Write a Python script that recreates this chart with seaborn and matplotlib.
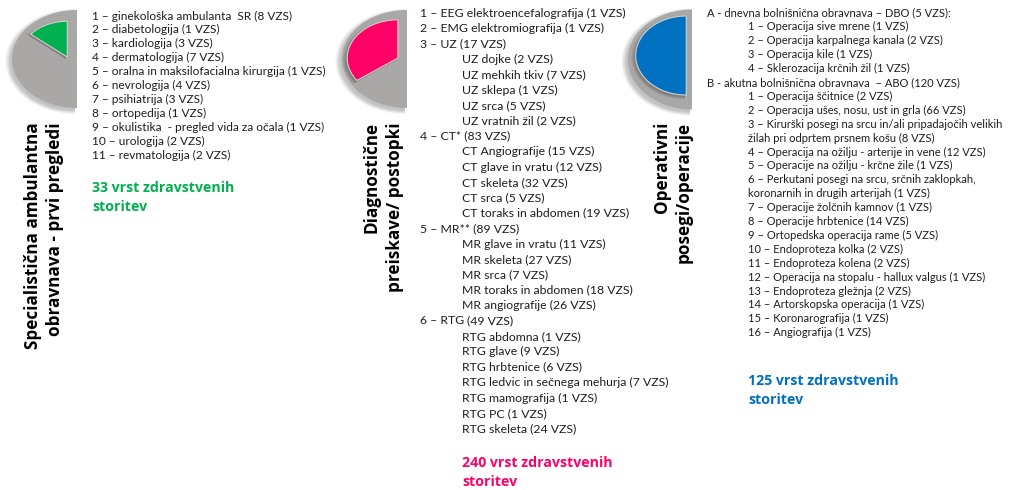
import matplotlib
matplotlib.use("Agg")
import matplotlib.pyplot as plt
from matplotlib.patches import Wedge
import seaborn as sns

# ---- data ----
panel_titles = [
    ["Specialistična ambulantna", "obravnava - prvi pregledi"],
    ["Diagnostične", "preiskave/ postopki"],
    ["Operativni", "posegi/operacije"],
]
panel_totals = [33, 240, 125]
panel_share = [0.28, 0.70, 1.0]   # del polkroga, odčitano s slike

spec_names = ["ginekološka ambulanta  SR", "diabetologija", "kardiologija", "dermatologija",
              "oralna in maksilofacialna kirurgija", "nevrologija", "psihiatrija", "ortopedija",
              "okulistika  - pregled vida za očala", "urologija", "revmatologija"]
spec_vzs = [8, 1, 3, 7, 1, 4, 3, 1, 1, 2, 2]

diag_groups = ["EEG elektroencefalografija", "EMG elektromiografija", "UZ", "CT*", "MR**", "RTG"]
diag_group_vzs = [1, 1, 17, 83, 89, 49]
uz_names = ["UZ dojke", "UZ mehkih tkiv", "UZ sklepa", "UZ srca", "UZ vratnih žil"]
uz_vzs = [2, 7, 1, 5, 2]
ct_names = ["CT Angiografije", "CT glave in vratu", "CT skeleta", "CT srca", "CT toraks in abdomen"]
ct_vzs = [15, 12, 32, 5, 19]
mr_names = ["MR glave in vratu", "MR skeleta", "MR srca", "MR toraks in abdomen", "MR angiografije"]
mr_vzs = [11, 27, 7, 18, 26]
rtg_names = ["RTG abdomna", "RTG glave", "RTG hrbtenice", "RTG ledvic in sečnega mehurja",
             "RTG mamografija", "RTG PC", "RTG skeleta"]
rtg_vzs = [1, 9, 6, 7, 1, 1, 24]

dbo_names = ["Operacija sive mrene", "Operacija karpalnega kanala", "Operacija kile",
             "Sklerozacija krčnih žil"]
dbo_vzs = [1, 2, 1, 1]
abo_names = ["Operacija ščitnice", "Operacija ušes, nosu, ust in grla",
             "Kirurški posegi na srcu in/ali pripadajočih velikih\nžilah pri odprtem prsnem košu",
             "Operacija na ožilju - arterije in vene", "Operacije na ožilju - krčne žile",
             "Perkutani posegi na srcu, srčnih zaklopkah,\nkoronarnih in drugih arterijah",
             "Operacije žolčnih kamnov", "Operacije hrbtenice", "Ortopedska operacija rame",
             "Endoproteza kolka", "Endoproteza kolena", "Operacija na stopalu - hallux valgus",
             "Endoproteza gležnja", "Artorskopska operacija", "Koronarografija", "Angiografija"]
abo_vzs = [2, 66, 8, 12, 1, 1, 1, 14, 5, 2, 2, 1, 2, 1, 1, 1]

# ---- style ----
sns.set_theme(style="white")
plt.rcParams['font.family'] = ['Lato', 'DejaVu Sans']

W, H = 1010, 490
GREY = "#aaa7a7"
colors = ["#00b050", "#ff0066", "#0070c0"]
TXT = "#1e1e1e"
TITLE_FONT = ['Open Sans', 'DejaVu Sans']


def fx(x):
    return x / W


def fy(y):
    return 1 - y / H


fig = plt.figure(figsize=(W / 100, H / 100), dpi=100)

# pie geometry in pixels (grey centre, radii) and inner wedge offsets
gauge_pos = [(77, 59, 65, 49), (407, 59, 65, 49), (692, 59.5, 64, 50)]
inner_geo = [(-0.15, 0.04, 0.73), (-0.14, 0.02, 0.78), (-0.09, 0.08, 0.79)]


def draw_gauge(k):
    cx, cy, rx, ry = gauge_pos[k]
    x0, x1, y0, y1 = -1.3, 0.15, -1.3, 1.3
    left = cx + x0 * rx
    bottom = (H - cy) + y0 * ry
    ax = fig.add_axes([left / W, bottom / H, (x1 - x0) * rx / W, (y1 - y0) * ry / H])
    ax.set_xlim(x0, x1)
    ax.set_ylim(y0, y1)
    ax.axis("off")
    # soft shadow
    for i in range(7):
        ax.add_patch(Wedge((-0.03, -0.05), 1.0 + 0.012 * i, 90, 270, color="black",
                           alpha=0.035, lw=0))
    ax.add_patch(Wedge((0, 0), 1.0, 90, 270, color=GREY, lw=0))
    dx, dy, r = inner_geo[k]
    t2 = 90 + 180 * panel_share[k]
    for i in range(5):
        ax.add_patch(Wedge((dx - 0.02, dy - 0.04), r + 0.012 * i, 90, t2, color="black",
                           alpha=0.05, lw=0))
    ax.add_patch(Wedge((dx, dy), r, 90, t2, facecolor=colors[k], edgecolor="#cfcfcf", lw=0.8))


for k in range(3):
    draw_gauge(k)

# vertical titles
title_x = [(33, 55), (372, 395), (662, 684)]
for k in range(3):
    for j, line in enumerate(panel_titles[k]):
        fig.text(fx(title_x[k][j]), fy(122), line, rotation=90, ha="center", va="top",
                 fontsize=12.3, fontweight="bold", color="black", family=TITLE_FONT)


def put_lines(lines, y0, step, size):
    for i, (x, s) in enumerate(lines):
        fig.text(fx(x), fy(y0 + i * step), s, ha="left", va="center", fontsize=size, color=TXT)


# panel 1 list
p1 = [(92, f"{i} – {n} ({v} VZS)") for i, (n, v) in enumerate(zip(spec_names, spec_vzs), 1)]
put_lines(p1, 16, 13.9, 8.6)

# panel 2 list
subs = [([], []), ([], []), (uz_names, uz_vzs), (ct_names, ct_vzs), (mr_names, mr_vzs),
        (rtg_names, rtg_vzs)]
p2 = []
p2_tab = -1
for i, (g, v) in enumerate(zip(diag_groups, diag_group_vzs), 1):
    if g == "RTG":
        # header split by a tab: count sits in the indented column
        p2.append((420, f"{i} – {g}"))
        p2.append((467, f"({v} VZS)"))
        p2_tab = len(p2) - 1
    else:
        p2.append((420, f"{i} – {g} ({v} VZS)"))
    for n, sv in zip(*subs[i - 1]):
        p2.append((462, f"{n} ({sv} VZS)"))
y = 13
step2 = 15.4
for idx, (x, s) in enumerate(p2):
    if idx == p2_tab:
        y -= step2
    fig.text(fx(x), fy(y), s, ha="left", va="center", fontsize=8.8, color=TXT)
    y += step2

# panel 3 list
p3 = [(707, f"A - dnevna bolnišnična obravnava – DBO ({sum(dbo_vzs)} VZS):")]
for i, (n, v) in enumerate(zip(dbo_names, dbo_vzs), 1):
    p3.append((748, f"{i} – {n} ({v} VZS)"))
p3.append((707, f"B - akutna bolnišnična obravnava  – ABO ({sum(abo_vzs)} VZS)"))
for i, (n, v) in enumerate(zip(abo_names, abo_vzs), 1):
    for part in f"{i} – {n} ({v} VZS)".split("\n"):
        p3.append((748, part))
put_lines(p3, 13, 13.9, 8.0)

# totals
tot_pos = [(92, 188), (462, 463), (748, 381)]
for k in range(3):
    x, y = tot_pos[k]
    for j, s in enumerate([f"{panel_totals[k]} vrst zdravstvenih", "storitev"]):
        fig.text(fx(x), fy(y + j * 18.5), s, ha="left", va="center", fontsize=10.2,
                 fontweight="bold", color=colors[k], family=TITLE_FONT)

fig.savefig("out.png", dpi=100, facecolor="white")
